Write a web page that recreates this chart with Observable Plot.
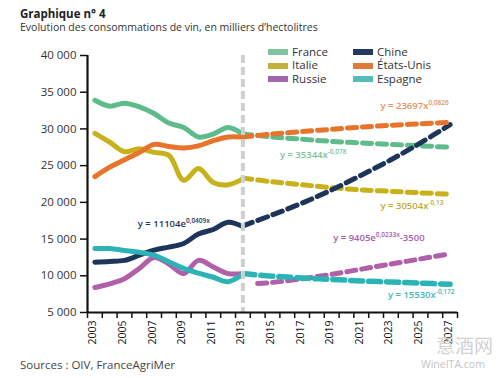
<!DOCTYPE html>
<html>
<head>
<meta charset="utf-8">
<script src="https://cdn.jsdelivr.net/npm/d3@7"></script>
<script src="https://cdn.jsdelivr.net/npm/@observablehq/plot@0.6"></script>
<style>
  body { margin: 0; background: #fff; }
  #wrap { position: relative; width: 498px; height: 378px; font-family: "Open Sans", sans-serif; background: #fff; overflow: hidden; }
  .abs { position: absolute; white-space: nowrap; }
  .sw { position: absolute; width: 20px; height: 6px; }
  .lt { position: absolute; font-size: 11.5px; color: #333; line-height: 12px; }
</style>
</head>
<body>
<div id="wrap">
  <div class="abs" style="left:20px;top:6px;font-size:11.5px;line-height:15px;font-weight:700;color:#222;">Graphique n° 4</div>
  <div class="abs" style="left:20px;top:20px;font-size:10.5px;line-height:14px;color:#333;">Evolution des consommations de vin, en milliers d’hectolitres</div>
  <div id="chart" class="abs" style="left:0;top:40px;"></div>
  <div id="legend"></div>
  <div class="abs" style="left:20px;top:357px;font-size:11.5px;line-height:15px;color:#444;">Sources : OIV, FranceAgriMer</div>
  <div class="abs" style="left:436px;top:334px;font-size:19px;line-height:22px;color:#d2d2d2;font-family:'Noto Sans CJK SC';">意酒网</div>
  <div class="abs" style="left:421px;top:358px;font-size:10.5px;line-height:13px;color:#c4c4c4;">WineITA.com</div>
</div>
<script>
// ---- Data ----
const histYears = [2003, 2004, 2005, 2006, 2007, 2008, 2009, 2010, 2011, 2012, 2013];
const france = [33900, 33100, 33500, 33000, 32100, 30800, 30200, 28900, 29300, 30200, 29300];
const italie = [29400, 28200, 26900, 27300, 26800, 26400, 23000, 24600, 22700, 22400, 23200];
const etatsUnis = [23500, 24800, 25800, 26800, 27900, 27600, 27400, 27700, 28400, 28900, 28900];
const chine = [11850, 11950, 12100, 12800, 13500, 13900, 14400, 15700, 16300, 17300, 16700];
const russie = [8400, 8900, 9600, 11000, 12500, 11600, 10300, 12100, 11200, 10300, 10300];
const espagne = [13700, 13700, 13450, 13200, 12800, 11900, 11000, 10350, 9800, 9200, 10200];

const projYears = [2013, 2015, 2017, 2019, 2021, 2023, 2025, 2027];
const projRussieYears = [2014, 2015, 2017, 2019, 2021, 2023, 2025, 2027];
const franceProj = [29300, 28900, 28600, 28300, 28100, 27900, 27700, 27500];
const italieProj = [23300, 22800, 22400, 22000, 21700, 21500, 21300, 21100];
const etatsUnisProj = [28900, 29300, 29650, 29950, 30250, 30500, 30700, 30900];
const chineProj = [16800, 18300, 19900, 21700, 23700, 25800, 28100, 30600];
const russieProj = [8950, 9100, 9600, 10200, 10900, 11600, 12300, 13000];
const espagneProj = [10300, 9950, 9700, 9500, 9300, 9150, 9000, 8850];

const countries = ["France", "Italie", "Russie", "Chine", "États-Unis", "Espagne"];
const colors = ["#5dbb8c", "#c8b21c", "#b060a8", "#1c3559", "#e8732a", "#2bb3b5"];
const legendColors = ["#7cc59d", "#c6b03c", "#a266ae", "#233a5e", "#e07a38", "#55bcbc"];

const yTicks = [5000, 10000, 15000, 20000, 25000, 30000, 35000, 40000];
const xTickYears = [2003, 2005, 2007, 2009, 2011, 2013, 2015, 2017, 2019, 2021, 2023, 2025, 2027];
const xTickMarks = d3.range(2002.5, 2028, 1);
const dividerYear = 2013;

const equations = [
  {x: 2022.3, y: 33100, base: "y = 23697x", sup: "0,0826", tail: "", color: "#e3915a"},
  {x: 2015.5, y: 26400, base: "y = 35344x", sup: "-0,078", tail: "", color: "#7cc49c"},
  {x: 2022.3, y: 19500, base: "y = 30504x", sup: "-0,13", tail: "", color: "#c2aa2c"},
  {x: 2005.9, y: 17000, base: "y = 11104e", sup: "0,0409x", tail: "", color: "#1c3559"},
  {x: 2019.1, y: 15100, base: "y = 9405e", sup: "0,0233x", tail: "-3500", color: "#a061a6"},
  {x: 2022.8, y: 7450, base: "y = 15530x", sup: "-0,172", tail: "", color: "#45b6b8"}
];

// ---- Build tables ----
const histSeries = [france, italie, russie, chine, etatsUnis, espagne];
const projSeries = [franceProj, italieProj, russieProj, chineProj, etatsUnisProj, espagneProj];
const hist = [];
countries.forEach((c, i) => histYears.forEach((yr, j) => hist.push({country: c, year: yr, value: histSeries[i][j]})));
const proj = [];
countries.forEach((c, i) => {
  const yrs = c === "Russie" ? projRussieYears : projYears;
  yrs.forEach((yr, j) => proj.push({country: c, year: yr, value: projSeries[i][j]}));
});

const fmt = d => d3.format(",")(d).replace(/,/g, " ");
const colorOf = c => colors[countries.indexOf(c)];

const histMarks = countries.map(c => Plot.line(hist.filter(d => d.country === c), {
  x: "year", y: "value", stroke: colorOf(c), strokeWidth: 5, curve: "catmull-rom"
}));
const projMarks = countries.map(c => Plot.line(proj.filter(d => d.country === c), {
  x: "year", y: "value", stroke: colorOf(c),
  strokeWidth: c === "Espagne" ? 5.5 : 5,
  strokeDasharray: c === "Espagne" ? "12,6" : (c === "Chine" ? "10,6" : "9,6"),
  curve: "catmull-rom"
}));

const chart = Plot.plot({
  width: 498,
  height: 310,
  marginLeft: 87,
  marginRight: 41,
  marginTop: 15,
  marginBottom: 38,
  style: {fontFamily: "Open Sans", background: "transparent", overflow: "visible"},
  x: {domain: [2002.5, 2027.5], axis: null},
  y: {domain: [5000, 40000], axis: null},
  marks: [
    Plot.axisY({ticks: yTicks, tickSize: 7, tickPadding: 4, tickFormat: fmt, fontSize: 11.5, stroke: "#111", strokeWidth: 1.5, fill: "#333"}),
    Plot.axisX({ticks: xTickMarks, tickSize: 6, tickFormat: () => "", stroke: "#111", strokeWidth: 1.5}),
    Plot.text(xTickYears, {x: d => d, frameAnchor: "bottom", rotate: -90, textAnchor: "end", dx: 1.5, dy: 8, fontSize: 10.5, fill: "#111", text: d => String(d)}),
    ...histMarks,
    ...projMarks,
    Plot.ruleX([dividerYear], {y1: 40000, y2: 5000, stroke: "#cfcfcf", strokeWidth: 4, strokeDasharray: "8,4"}),
    Plot.ruleX([2002.5], {y1: 40000, y2: 5000, stroke: "#111", strokeWidth: 2.2}),
    Plot.ruleY([5000], {x1: 2002.5, x2: 2027.5, stroke: "#111", strokeWidth: 2.2}),
    Plot.text(equations, {x: "x", y: "y", text: "base", fill: "color", textAnchor: "start", fontSize: 9.5, fontWeight: 600})
  ]
});
document.getElementById("chart").appendChild(chart);

// superscripts for the equations
d3.select(chart).selectAll("text").each(function() {
  const t = this;
  const eq = equations.find(e => e.base === t.textContent);
  if (!eq) return;
  const sel = d3.select(t);
  sel.append("tspan").attr("dy", -4).attr("font-size", 6.5).text(eq.sup);
  if (eq.tail) sel.append("tspan").attr("dy", 4).attr("font-size", 9.5).text(eq.tail);
});

// legend
const legend = document.getElementById("legend");
const legPos = [
  [268, 52.3], [268, 65.7], [268, 79],
  [353, 52.3], [353, 65.7], [353, 79]
];
const legOrder = ["France", "Italie", "Russie", "Chine", "États-Unis", "Espagne"];
legOrder.forEach((c, i) => {
  const [x, y] = legPos[i];
  const sw = document.createElement("div");
  sw.className = "sw";
  sw.style.left = x + "px";
  sw.style.top = (y - 3) + "px";
  sw.style.background = legendColors[countries.indexOf(c)];
  legend.appendChild(sw);
  const tx = document.createElement("div");
  tx.className = "lt";
  tx.style.left = (x + 24) + "px";
  tx.style.top = (y - 6.5) + "px";
  tx.textContent = c;
  legend.appendChild(tx);
});
</script>
</body>
</html>
